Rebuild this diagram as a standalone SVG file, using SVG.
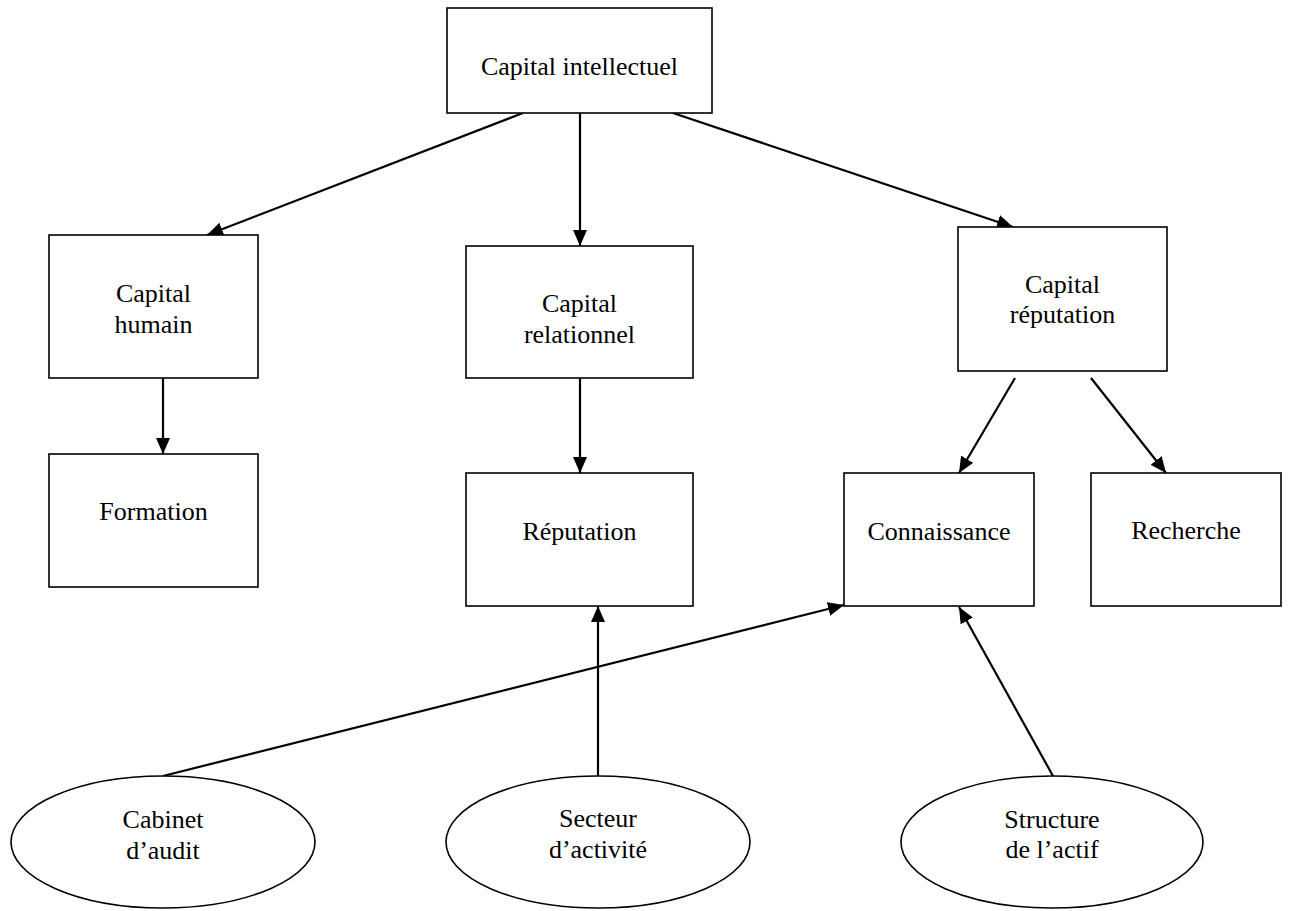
<svg xmlns="http://www.w3.org/2000/svg" width="1290" height="911" viewBox="0 0 1290 911">
<style>
.box{fill:#fff;stroke:#000;stroke-width:1.6}
.ell{fill:#fff;stroke:#000;stroke-width:1.6}
.lbl{font-family:"Liberation Serif","Times New Roman",serif;font-size:26px;fill:#000;text-anchor:middle}
.con{stroke:#000;stroke-width:2.2;fill:none}
.arr{marker-end:url(#ah)}
</style>
<defs>
<marker id="ah" markerUnits="userSpaceOnUse" markerWidth="17" markerHeight="14" refX="16" refY="7" orient="auto">
<path d="M0,0 L16,7 L0,14 z" fill="#000"/>
</marker>
</defs>
<rect width="1290" height="911" fill="#fff"/>
<g id="connectors">
<line class="con arr" x1="523" y1="113" x2="207" y2="235"/>
<line class="con arr" x1="580" y1="113" x2="580" y2="246"/>
<line class="con arr" x1="673" y1="113" x2="1013" y2="227"/>
<line class="con arr" x1="163" y1="378" x2="163" y2="454"/>
<line class="con arr" x1="580" y1="378" x2="580" y2="473"/>
<line class="con arr" x1="1015" y1="378" x2="959" y2="473"/>
<line class="con arr" x1="1091" y1="378" x2="1166" y2="473"/>
<line class="con arr" x1="163" y1="776" x2="844" y2="605"/>
<line class="con arr" x1="598" y1="776" x2="598" y2="606"/>
<line class="con arr" x1="1053" y1="776" x2="959" y2="607"/>
</g>
<g id="n-intellectuel">
<rect class="box" x="447" y="8" width="265" height="105"/>
<text class="lbl" x="579.5" y="75">Capital intellectuel</text>
</g>
<g id="n-humain">
<rect class="box" x="49" y="235" width="209" height="143"/>
<text class="lbl" x="153.5" y="302">Capital</text>
<text class="lbl" x="153.5" y="333">humain</text>
</g>
<g id="n-relationnel">
<rect class="box" x="466" y="246" width="227" height="132"/>
<text class="lbl" x="579.5" y="312">Capital</text>
<text class="lbl" x="579.5" y="343">relationnel</text>
</g>
<g id="n-cap-reputation">
<rect class="box" x="958" y="227" width="209" height="144"/>
<text class="lbl" x="1062.5" y="293">Capital</text>
<text class="lbl" x="1062.5" y="323">réputation</text>
</g>
<g id="n-formation">
<rect class="box" x="49" y="454" width="209" height="133"/>
<text class="lbl" x="153.5" y="520">Formation</text>
</g>
<g id="n-reputation">
<rect class="box" x="466" y="473" width="227" height="133"/>
<text class="lbl" x="579.5" y="540">Réputation</text>
</g>
<g id="n-connaissance">
<rect class="box" x="844" y="473" width="190" height="133"/>
<text class="lbl" x="939" y="540">Connaissance</text>
</g>
<g id="n-recherche">
<rect class="box" x="1091" y="473" width="190" height="133"/>
<text class="lbl" x="1186" y="539">Recherche</text>
</g>
<g id="n-cabinet">
<ellipse class="ell" cx="163" cy="842" rx="152" ry="66"/>
<text class="lbl" x="163" y="828">Cabinet</text>
<text class="lbl" x="163" y="859">d’audit</text>
</g>
<g id="n-secteur">
<ellipse class="ell" cx="598" cy="842" rx="152" ry="66"/>
<text class="lbl" x="598" y="827">Secteur</text>
<text class="lbl" x="598" y="858">d’activité</text>
</g>
<g id="n-structure">
<ellipse class="ell" cx="1052" cy="842" rx="151" ry="66"/>
<text class="lbl" x="1052" y="828">Structure</text>
<text class="lbl" x="1052" y="858">de l’actif</text>
</g>
</svg>
